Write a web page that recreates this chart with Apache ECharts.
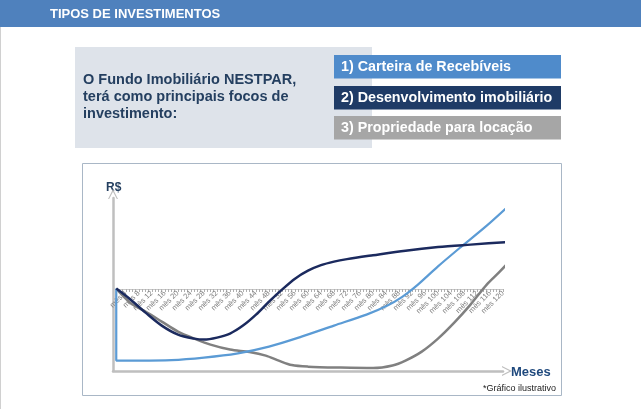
<!DOCTYPE html>
<html>
<head>
<meta charset="utf-8">
<script src="https://cdn.jsdelivr.net/npm/echarts@6/dist/echarts.min.js"></script>
<style>
html,body{margin:0;padding:0;background:#fff;}
#c{width:641px;height:409px;}
</style>
</head>
<body>
<div id="c"></div>
<script>
// ---- data (x = month, y = R$ in arbitrary units) ----
const monthLabels = [];
for (let i = 1; i <= 120; i++) monthLabels.push('mês ' + i);

const carteiraRecebiveis = [[1,0],[1,-87.4],[8,-87.4],[18,-86.8],[28,-83.7],[38,-78.9],[48,-70.4],[58,-58.3],[68,-44.9],[78,-31.6],[84,-21.5],[89,-10],[94,5.5],[100,27],[107,50.4],[115,76.5],[122.8,104.4]];
const desenvolvimento = [[1,0],[5,-12.1],[10,-29.1],[15,-44.9],[20,-55.8],[25,-60.7],[28,-61.9],[32,-59.5],[36,-54.6],[40,-44.9],[44,-31.6],[48,-15.8],[52,-1.2],[56,12.1],[60,21.8],[64,28.5],[68,32.8],[72,35.8],[80,40.5],[90,46.1],[100,50.4],[110,53.4],[122.8,57]];
const propriedade = [[1,0],[3,-8.5],[6,-19.4],[10,-27.9],[15,-40],[20,-52.2],[25,-60.7],[30,-68],[36,-74],[42,-77],[47,-81.3],[51,-87.4],[55,-92.8],[60,-94.7],[70,-95.9],[80,-96.5],[86,-93.4],[90,-87.4],[95,-76.5],[100,-60.7],[105,-41.3],[110,-19.4],[115,4.9],[119,20.6],[122.8,36.4]];

const seriesNames = ['1) Carteira de Recebíveis', '2) Desenvolvimento imobiliário', '3) Propriedade para locação'];
const introLines = ['O Fundo Imobiliário NESTPAR,', 'terá como principais focos de', 'investimento:'];

const colBlue = '#5B9BD5', colNavy = '#1B2A5E', colGray = '#808080';
const boxColors = ['#4F8BCB', '#1F3B66', '#A6A6A6'];
const dark = '#243F60';
const arrow = 'path://M0,12 L6,0 L12,12 L10.6,12 L6,3.2 L1.4,12 Z';

const chart = echarts.init(document.getElementById('c'), null, {renderer:'canvas'});

const graphics = [
  {type:'rect', shape:{x:0,y:0,width:641,height:27}, style:{fill:'#4F81BD'}, z:-1},
  {type:'line', shape:{x1:0.5,y1:27,x2:0.5,y2:409}, style:{stroke:'#D0D0D0', lineWidth:1}},
  {type:'text', x:50, y:14, style:{text:'TIPOS DE INVESTIMENTOS', fill:'#fff', font:'bold 13px "Liberation Sans", Arial', textVerticalAlign:'middle'}},
  {type:'rect', shape:{x:75,y:47,width:297,height:101}, style:{fill:'#DEE3EA'}, z:-1},
  {type:'rect', shape:{x:82.5,y:163.5,width:479,height:232}, style:{fill:'none', stroke:'#A9B7C6', lineWidth:1}},
  {type:'text', x:106, y:188, style:{text:'R$', fill:dark, font:'bold 12px "Liberation Sans", Arial', textVerticalAlign:'middle'}},
  {type:'text', x:511, y:372, style:{text:'Meses', fill:'#1F497D', font:'bold 13px "Liberation Sans", Arial', textVerticalAlign:'middle'}},
  {type:'text', x:556, y:389, style:{text:'*Gráfico ilustrativo', fill:'#222', font:'9px "Liberation Sans", Arial', textAlign:'right', textVerticalAlign:'middle'}}
];
introLines.forEach((t, i) => graphics.push({type:'text', x:83, y:80 + i*17, style:{text:t, fill:dark, font:'bold 14.5px "Liberation Sans", Arial', textVerticalAlign:'middle'}}));
seriesNames.forEach((t, i) => {
  const y0 = [55, 86, 116][i];
  graphics.push({type:'rect', shape:{x:334,y:y0,width:227,height:23.5}, style:{fill:boxColors[i]}, z:1});
  graphics.push({type:'text', x:341, y:y0 + 12, z:2, style:{text:t, fill:'#fff', font:'bold 14.3px "Liberation Sans", Arial', textVerticalAlign:'middle'}});
});

chart.setOption({
  animation:false,
  backgroundColor:'#fff',
  graphic:graphics,
  grid:[
    {left:113, top:198, width:390, height:173},
    {left:116, top:198, width:387, height:91}
  ],
  xAxis:[
    {type:'value', gridIndex:0, min:0, max:120,
     axisLine:{onZero:false, lineStyle:{color:'#BFBFBF', width:2.5}, symbol:['none', arrow], symbolSize:[10,12], symbolOffset:[0,4]},
     axisTick:{show:false}, axisLabel:{show:false}, splitLine:{show:false}},
    {type:'category', gridIndex:1, data:monthLabels, boundaryGap:false,
     axisLine:{onZero:false, lineStyle:{color:'#C8C8C8', width:1}},
     axisTick:{interval:0, length:3, lineStyle:{color:'#B0B0B0'}},
     axisLabel:{interval:(i) => (i + 1) % 4 === 0, rotate:45, fontSize:7.5, color:'#7F7F7F', margin:3, fontFamily:'"Liberation Sans", Arial'},
     splitLine:{show:false}}
  ],
  yAxis:[
    {type:'value', gridIndex:0, min:-100, max:110,
     axisLine:{show:true, onZero:false, lineStyle:{color:'#BFBFBF', width:2.5}, symbol:['none', arrow], symbolSize:[10,12], symbolOffset:[0,4]},
     axisTick:{show:false}, axisLabel:{show:false}, splitLine:{show:false}},
    {type:'value', gridIndex:1, min:0, max:1,
     axisLine:{show:false}, axisTick:{show:false}, axisLabel:{show:false}, splitLine:{show:false}}
  ],
  series:[
    {name:seriesNames[2], type:'line', xAxisIndex:0, yAxisIndex:0, data:propriedade, smooth:0.3, showSymbol:false, clip:false, lineStyle:{color:colGray, width:2.5}},
    {name:seriesNames[0], type:'line', xAxisIndex:0, yAxisIndex:0, data:carteiraRecebiveis, smooth:0.3, showSymbol:false, clip:false, lineStyle:{color:colBlue, width:2.2}},
    {name:seriesNames[1], type:'line', xAxisIndex:0, yAxisIndex:0, data:desenvolvimento, smooth:0.3, showSymbol:false, clip:false, lineStyle:{color:colNavy, width:2.5}}
  ]
});
</script>
</body>
</html>
